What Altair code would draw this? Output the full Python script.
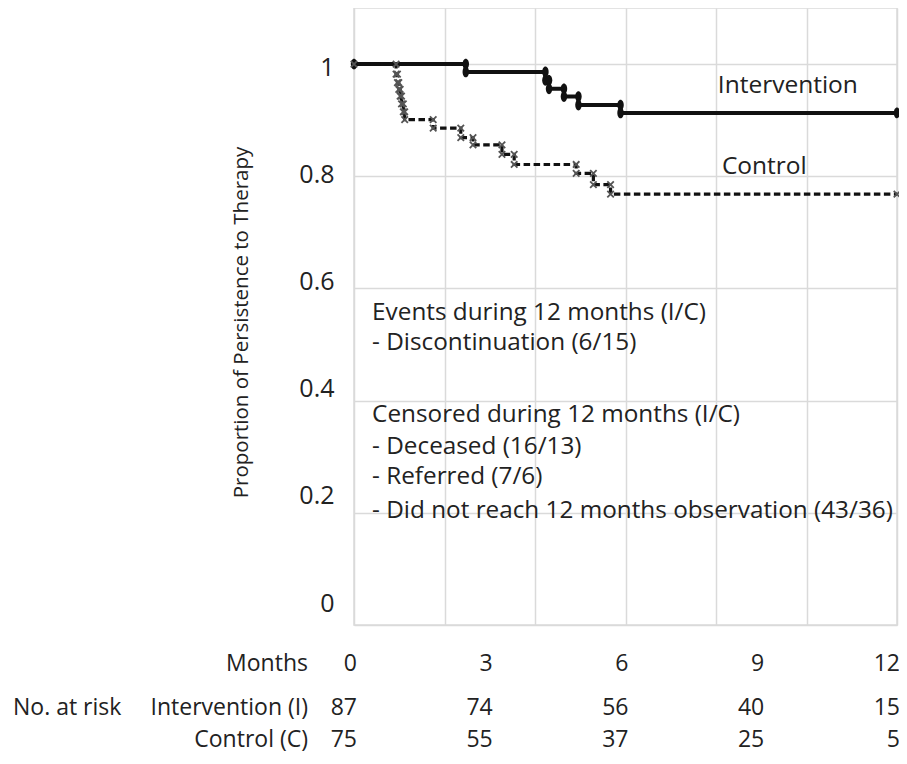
import altair as alt
import pandas as pd

# ---- Kaplan-Meier steps ----
int_months = [0, 2.47, 4.23, 4.31, 4.64, 4.96, 5.89, 12]
int_surv = [1.0, 0.986, 0.971, 0.956, 0.942, 0.927, 0.913, 0.913]

ctl_months = [0, 0.93, 0.96, 0.99, 1.02, 1.05, 1.09, 1.12, 1.75, 2.36, 2.63,
              3.27, 3.54, 4.91, 5.29, 5.67, 12]
ctl_surv = [1.0, 0.982, 0.967, 0.955, 0.943, 0.929, 0.915, 0.901, 0.886, 0.869,
            0.856, 0.839, 0.821, 0.805, 0.785, 0.768, 0.768]

# ---- number at risk table ----
risk_months = [0, 3, 6, 9, 12]
risk_intervention = [87, 74, 56, 40, 15]
risk_control = [75, 55, 37, 25, 5]

y_ticks = [0, 0.2, 0.4, 0.6, 0.8, 1.0]
grid_months = [0, 2, 4, 6, 8, 10, 12]

note_lines = ["Events during 12 months (I/C)",
              "- Discontinuation (6/15)",
              "Censored during 12 months (I/C)",
              "- Deceased (16/13)",
              "- Referred (7/6)",
              "- Did not reach 12 months observation (43/36)"]
note_y = [0.557, 0.502, 0.375, 0.318, 0.263, 0.204]
note_x = 0.40

series_labels = ["Intervention", "Control"]
series_label_x = [8.04, 8.13]
series_label_y = [0.961, 0.816]

FONT = "Open Sans"
TXT = "#222222"
GRID = "#dadada"


def marker_points(months, surv):
    pts = [(months[0], surv[0])]
    for i in range(1, len(months)):
        pts.append((months[i], surv[i - 1]))
        if surv[i] != surv[i - 1]:
            pts.append((months[i], surv[i]))
    return pd.DataFrame(pts, columns=["month", "surv"])


int_df = pd.DataFrame({"month": int_months, "surv": int_surv})
ctl_df = pd.DataFrame({"month": ctl_months, "surv": ctl_surv})
int_mk = marker_points(int_months, int_surv)
ctl_mk = marker_points(ctl_months, ctl_surv)

x_scale = alt.Scale(domain=[0, 12], nice=False, zero=False)
y_scale = alt.Scale(domain=[0, 1.1], nice=False, zero=False)
x_axis = alt.Axis(values=grid_months, grid=True, labels=False, ticks=False,
                  domain=False, title=None, gridColor=GRID, gridWidth=1.5)
y_axis = alt.Axis(orient="right", values=y_ticks, grid=True, labels=False,
                  ticks=False, domain=False, title=None, gridColor=GRID,
                  gridWidth=1.5)


def X(field):
    return alt.X(field, scale=x_scale, axis=x_axis)


def Y(field):
    return alt.Y(field, scale=y_scale, axis=y_axis)


int_line = alt.Chart(int_df).mark_line(
    interpolate="step-after", color="#111111", strokeWidth=4
).encode(x=X("month:Q"), y=Y("surv:Q"))

ctl_line = alt.Chart(ctl_df).mark_line(
    interpolate="step-after", color="#111111", strokeWidth=3.2,
    strokeDash=[6.5, 3.5]
).encode(x=X("month:Q"), y=Y("surv:Q"))

ellipse = "M0,-1A0.6,1 0 1,1 0,1A0.6,1 0 1,1 0,-1Z"
int_pts = alt.Chart(int_mk).mark_point(
    shape=ellipse, filled=True, size=115, color="#111111", opacity=1
).encode(x=X("month:Q"), y=Y("surv:Q"))

ctl_pts = alt.Chart(ctl_mk).mark_point(
    shape="M-1,-1L1,1M-1,1L1,-1", filled=False, size=42, color="#555555",
    strokeWidth=1.8, opacity=1
).encode(x=X("month:Q"), y=Y("surv:Q"))

series_df = pd.DataFrame({"t": series_labels, "x": series_label_x,
                          "y": series_label_y})
series_txt = alt.Chart(series_df).mark_text(
    align="left", baseline="middle", font=FONT, fontSize=24.5, color=TXT
).encode(x=X("x:Q"), y=Y("y:Q"), text="t:N")

notes_df = pd.DataFrame({"t": note_lines, "y": note_y,
                         "x": [note_x] * len(note_lines)})
notes_txt = alt.Chart(notes_df).mark_text(
    align="left", baseline="middle", font=FONT, fontSize=24.3, color=TXT
).encode(x=X("x:Q"), y=Y("y:Q"), text="t:N")

risk_df = pd.DataFrame({"month": risk_months,
                        "m": [str(m) for m in risk_months],
                        "i": [str(v) for v in risk_intervention],
                        "c": [str(v) for v in risk_control]})

ROW_Y = [656, 700, 732]


def risk_row(field, ypx):
    return alt.Chart(risk_df).mark_text(
        align="right", baseline="middle", font=FONT, fontSize=23, color=TXT,
        dx=3
    ).encode(x=X("month:Q"), y=alt.value(ypx), text=f"{field}:N")


def row_label(text, xpx, ypx, align):
    return alt.Chart(pd.DataFrame({"t": [text]})).mark_text(
        align=align, baseline="middle", font=FONT, fontSize=23, color=TXT
    ).encode(x=alt.value(xpx), y=alt.value(ypx), text="t:N")


table = [
    risk_row("m", ROW_Y[0]), risk_row("i", ROW_Y[1]), risk_row("c", ROW_Y[2]),
    row_label("Months", -46, ROW_Y[0], "right"),
    row_label("No. at risk", -341, ROW_Y[1], "left"),
    row_label("Intervention (I)", -46, ROW_Y[1], "right"),
    row_label("Control (C)", -46, ROW_Y[2], "right"),
]

inner = alt.layer(int_line, ctl_line, int_pts, ctl_pts, series_txt,
                  notes_txt, *table)

label_scale = alt.Scale(domain=[-0.041, 1.1101], nice=False, zero=False)
label_layer = alt.Chart(pd.DataFrame({"v": y_ticks})).mark_point(
    opacity=0
).encode(
    y=alt.Y("v:Q", scale=label_scale,
            axis=alt.Axis(orient="left", values=y_ticks, format="~g",
                          grid=False, ticks=False, tickSize=0, domain=False,
                          labelPadding=20, labelFont=FONT, labelFontSize=25,
                          labelColor=TXT,
                          title="Proportion of Persistence to Therapy",
                          titleFont=FONT, titleFontSize=20.5,
                          titleFontWeight="normal", titleColor=TXT,
                          titleAngle=270, titleX=-113, titleY=314,
                          titleAlign="center", titleBaseline="middle"))
)

chart = alt.layer(inner, label_layer).resolve_scale(
    y="independent"
).properties(
    width=543, height=617,
    padding={"left": 346, "top": 0, "right": 2, "bottom": 131},
    autosize=alt.AutoSizeParams(type="none"),
).configure_view(stroke=GRID, strokeWidth=1.5)

chart.save("out.html", embed_options={"renderer": "svg", "actions": False})
